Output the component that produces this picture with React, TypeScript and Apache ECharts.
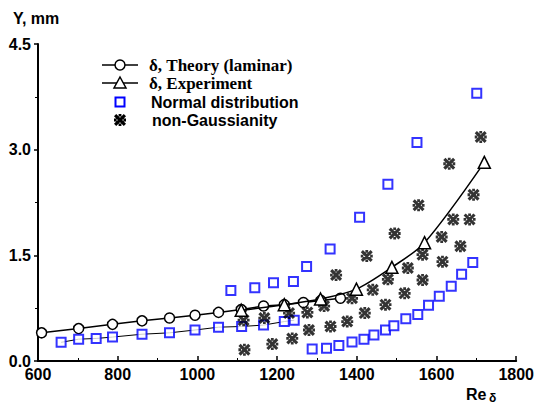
import React, { useEffect, useRef } from "react";
import * as echarts from "echarts";

// ---- data ----
const theoryX = [609, 702, 787, 861, 930, 994, 1053, 1110, 1166, 1218, 1266, 1310, 1359];
const theoryY = [0.40, 0.46, 0.52, 0.57, 0.61, 0.65, 0.69, 0.73, 0.78, 0.80, 0.83, 0.86, 0.89];

const expX = [1110, 1218, 1309, 1399, 1488, 1570, 1720];
const expY = [0.72, 0.80, 0.88, 1.02, 1.33, 1.68, 2.82];

const normalLowerX = [658, 702, 746, 787, 861, 930, 994, 1053, 1111, 1166, 1218, 1243];
const normalLowerY = [0.265, 0.31, 0.32, 0.34, 0.38, 0.40, 0.44, 0.48, 0.49, 0.51, 0.56, 0.58];

const normalUpperX = [1084, 1144, 1191, 1241, 1274, 1333, 1407, 1478, 1551, 1701];
const normalUpperY = [1.00, 1.04, 1.11, 1.13, 1.34, 1.59, 2.04, 2.51, 3.10, 3.80];

const normalRightX = [1288, 1324, 1355, 1388, 1418, 1443, 1472, 1493, 1523, 1553, 1580, 1607, 1637, 1663, 1691];
const normalRightY = [0.17, 0.18, 0.22, 0.27, 0.31, 0.37, 0.44, 0.50, 0.60, 0.66, 0.79, 0.92, 1.06, 1.23, 1.40];

const nonGaussX = [1118, 1116, 1168, 1188, 1230, 1238, 1276, 1280, 1318, 1334, 1348, 1376, 1388, 1420, 1425, 1440, 1472, 1478, 1495, 1520, 1528, 1555, 1565, 1565, 1615, 1613, 1632, 1642, 1660, 1683, 1693, 1711];
const nonGaussY = [0.16, 0.58, 0.61, 0.24, 0.68, 0.32, 0.69, 0.44, 0.78, 0.49, 1.22, 0.56, 0.89, 0.68, 1.49, 1.01, 0.80, 1.16, 1.81, 0.96, 1.32, 2.21, 1.15, 1.51, 1.41, 1.76, 2.80, 2.01, 1.63, 2.01, 2.36, 3.18];

const xTicks = { min: 600, max: 1800, interval: 200 };
const yTicks = { min: 0, max: 4.5, interval: 1.5 };

const legendLabels = [
  "δ, Theory (laminar)",
  "δ, Experiment",
  "Normal distribution",
  "non-Gaussianity",
];

const CROSS_D =
  "M0,2.2 L2.2,0 L12,9.8 L9.8,12 Z M9.8,0 L12,2.2 L2.2,12 L0,9.8 Z M4.6,0 L7.4,0 L7.4,2.6 L4.6,2.6 Z M4.6,9.4 L7.4,9.4 L7.4,12 L4.6,12 Z M0,4.6 L2.6,4.6 L2.6,7.4 L0,7.4 Z M9.4,4.6 L12,4.6 L12,7.4 L9.4,7.4 Z";

let registered = false;
function ensureShape() {
  if (registered) return;
  try {
    echarts.graphic.registerShape("crossmark", echarts.graphic.extendPath(CROSS_D, {}));
  } catch (e) {}
  registered = true;
}

const zip = (xs: number[], ys: number[]) => xs.map((x, i) => [x, ys[i]]);

const SANS = "Arial, 'Liberation Sans', sans-serif";
const SERIF = "'Times New Roman', 'Liberation Serif', serif";

export default function App() {
  const ref = useRef<HTMLDivElement>(null);
  useEffect(() => {
    document.body.style.margin = "0";
    ensureShape();
    const chart = echarts.init(ref.current!, undefined, { renderer: "svg" });
    const lx0 = 102, lx1 = 138, lxc = 120;
    const rows = [65, 83, 102, 120];
    const option: any = {
      animation: false,
      backgroundColor: "#fff",
      grid: { left: 38, right: 19, top: 44, bottom: 44, containLabel: false },
      xAxis: {
        type: "value",
        min: xTicks.min,
        max: xTicks.max,
        interval: xTicks.interval,
        axisLine: { show: true, onZero: false, lineStyle: { color: "#000", width: 2 } },
        axisTick: { show: true, inside: true, length: 5, lineStyle: { color: "#000", width: 1.5 } },
        minorTick: { show: true, splitNumber: 2, length: 3, lineStyle: { color: "#000", width: 1 } },
        splitLine: { show: false },
        axisLabel: {
          color: "#000",
          fontFamily: SANS,
          fontWeight: "bold",
          fontSize: 16,
          margin: 5,
          formatter: (v: number) => String(v),
        },
      },
      yAxis: {
        type: "value",
        min: yTicks.min,
        max: yTicks.max,
        interval: yTicks.interval,
        axisLine: { show: true, onZero: false, lineStyle: { color: "#000", width: 2 } },
        axisTick: { show: true, inside: false, length: 4, lineStyle: { color: "#000", width: 1.5 } },
        minorTick: { show: true, splitNumber: 2, length: 3, lineStyle: { color: "#000", width: 1 } },
        splitLine: { show: false },
        axisLabel: {
          color: "#000",
          fontFamily: SANS,
          fontWeight: "bold",
          fontSize: 16,
          margin: 7,
          formatter: (v: number) => v.toFixed(1),
        },
      },
      series: [
        {
          name: legendLabels[0],
          type: "line",
          data: zip(theoryX, theoryY),
          symbol: "circle",
          symbolSize: 10,
          showAllSymbol: true,
          lineStyle: { color: "#000", width: 1.5 },
          itemStyle: { color: "#fff", borderColor: "#000", borderWidth: 1.5 },
          z: 3,
        },
        {
          name: "normal-line",
          type: "line",
          data: zip(normalLowerX, normalLowerY),
          symbol: "none",
          lineStyle: { color: "#000", width: 1 },
          z: 2,
        },
        {
          name: legendLabels[2],
          type: "scatter",
          data: [
            ...zip(normalLowerX, normalLowerY),
            ...zip(normalUpperX, normalUpperY),
            ...zip(normalRightX, normalRightY),
          ],
          symbol: "rect",
          symbolSize: 9,
          itemStyle: { color: "#fff", borderColor: "#0000ff", borderWidth: 2 },
          z: 4,
        },
        {
          name: legendLabels[3],
          type: "scatter",
          data: zip(nonGaussX, nonGaussY),
          symbol: "path://" + CROSS_D,
          symbolSize: 12,
          itemStyle: { color: "#000" },
          z: 5,
        },
        {
          name: legendLabels[1],
          type: "line",
          data: zip(expX, expY),
          smooth: 0.3,
          symbol: "triangle",
          symbolSize: 12,
          showAllSymbol: true,
          lineStyle: { color: "#000", width: 1.5 },
          itemStyle: { color: "#fff", borderColor: "#000", borderWidth: 1.5 },
          z: 6,
        },
      ],
      graphic: [
        {
          type: "text",
          x: 13,
          y: 18,
          style: { text: "Y, mm", fill: "#000", font: `bold 16px ${SANS}`, verticalAlign: "middle" },
        },
        {
          type: "text",
          x: 466,
          y: 394,
          style: { text: "Re", fill: "#000", font: `bold 16px ${SANS}`, verticalAlign: "middle" },
        },
        {
          type: "text",
          x: 489,
          y: 398,
          style: { text: "δ", fill: "#000", font: `bold 12px ${SANS}`, verticalAlign: "middle" },
        },
        // legend row 1
        { type: "line", shape: { x1: lx0, y1: rows[0], x2: lx1, y2: rows[0] }, style: { stroke: "#000", lineWidth: 1.5 } },
        { type: "circle", shape: { cx: lxc, cy: rows[0], r: 5 }, style: { fill: "#fff", stroke: "#000", lineWidth: 1.5 } },
        {
          type: "text",
          x: 149,
          y: rows[0],
          style: { text: legendLabels[0], fill: "#000", font: `bold 17px ${SERIF}`, verticalAlign: "middle" },
        },
        // row 2
        { type: "line", shape: { x1: lx0, y1: rows[1], x2: lx1, y2: rows[1] }, style: { stroke: "#000", lineWidth: 1.5 } },
        {
          type: "polygon",
          shape: { points: [[lxc, rows[1] - 6], [lxc + 6, rows[1] + 5], [lxc - 6, rows[1] + 5]] },
          style: { fill: "#fff", stroke: "#000", lineWidth: 1.5 },
        },
        {
          type: "text",
          x: 149,
          y: rows[1],
          style: { text: legendLabels[1], fill: "#000", font: `bold 17px ${SERIF}`, verticalAlign: "middle" },
        },
        // row 3
        {
          type: "rect",
          shape: { x: lxc - 4.5, y: rows[2] - 4.5, width: 9, height: 9 },
          style: { fill: "#fff", stroke: "#0000ff", lineWidth: 2 },
        },
        {
          type: "text",
          x: 151,
          y: rows[2],
          style: { text: legendLabels[2], fill: "#000", font: `bold 16px ${SANS}`, verticalAlign: "middle" },
        },
        // row 4
        {
          type: "crossmark",
          x: lxc - 6,
          y: rows[3] - 6,
          scaleX: 1,
          scaleY: 1,
          style: { fill: "#000" },
        },
        {
          type: "text",
          x: 152,
          y: rows[3],
          style: { text: legendLabels[3], fill: "#000", font: `bold 16px ${SANS}`, verticalAlign: "middle" },
        },
      ],
    };
    chart.setOption(option);
    return () => chart.dispose();
  }, []);
  return <div ref={ref} style={{ width: 537, height: 405 }} />;
}
